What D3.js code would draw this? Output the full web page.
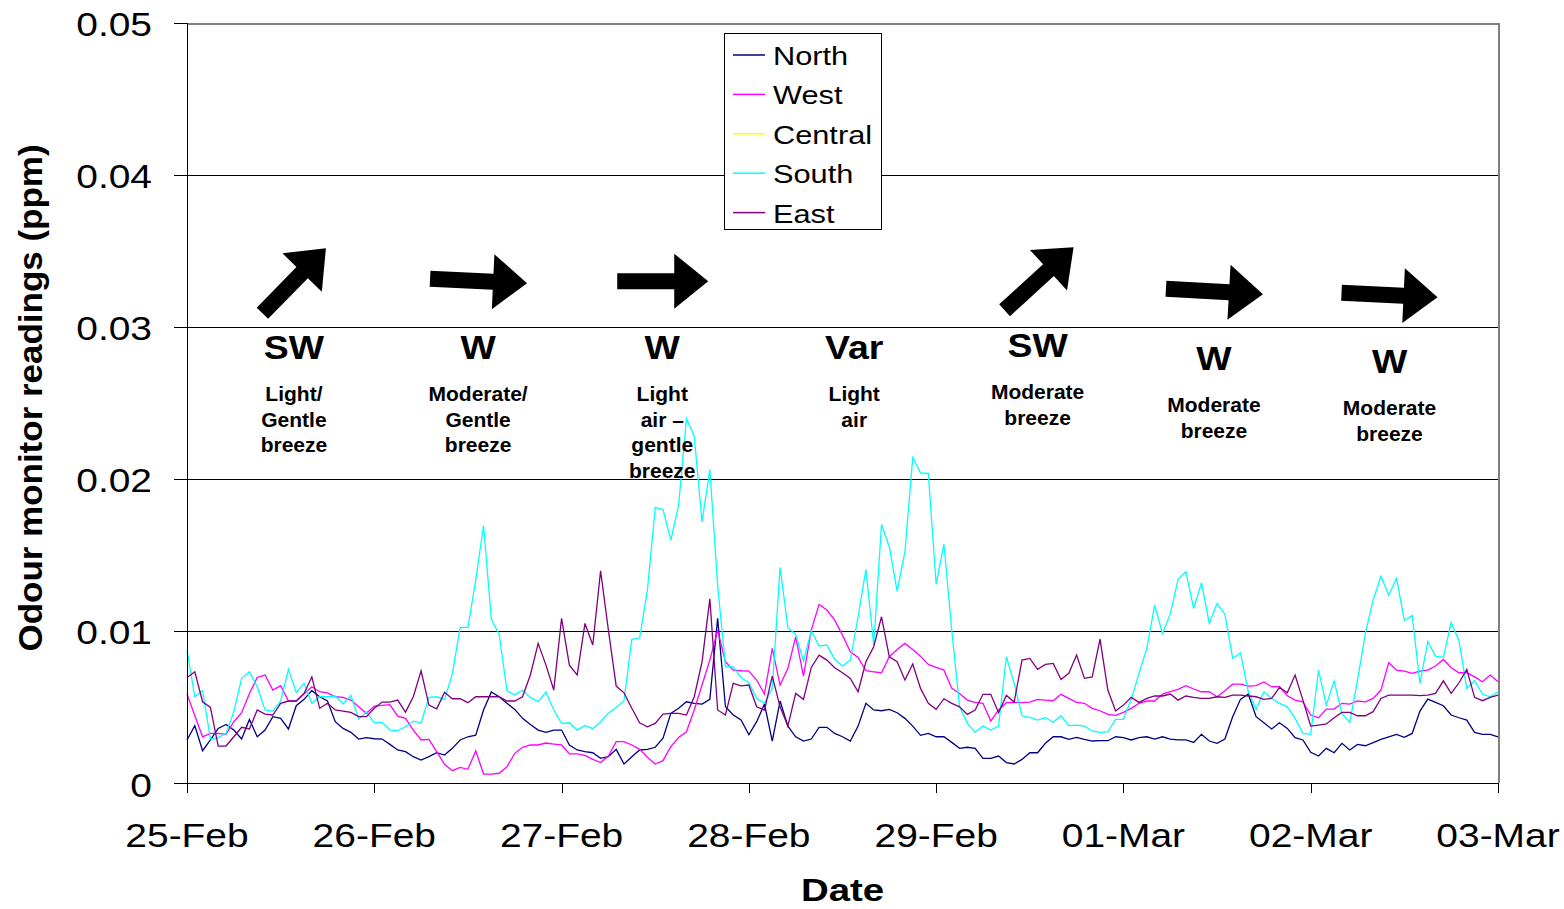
<!DOCTYPE html>
<html>
<head>
<meta charset="utf-8">
<script src="https://cdn.jsdelivr.net/npm/d3@7"></script>
<style>
  html, body { margin: 0; padding: 0; background: #fff; }
  svg { display: block; font-family: "Liberation Sans", Arial, sans-serif; }
</style>
</head>
<body>
<svg id="chart" width="1564" height="909"></svg>
<script>
// ---------------- DATA (hourly readings, ppm) ----------------
const startDate = new Date(2008, 1, 25, 0, 0); // 25-Feb 00:00
const dayLabels = ["25-Feb", "26-Feb", "27-Feb", "28-Feb", "29-Feb", "01-Mar", "02-Mar", "03-Mar"];
const yTickValues = [0, 0.01, 0.02, 0.03, 0.04, 0.05];
const yTickLabels = ["0", "0.01", "0.02", "0.03", "0.04", "0.05"];
const seriesNames = ["North", "West", "Central", "South", "East"];

const north = [
0.00283,0.00377,0.00212,0.00283,0.00359,0.00385,0.00348,0.00289,0.00418,0.00304,0.00348,0.00436,0.00425,0.00355,0.00508,0.00550,0.00607,0.00567,0.00539,0.00403,0.00359,0.00333,0.00289,0.00298,
0.00291,0.00289,0.00254,0.00217,0.00206,0.00173,0.00151,0.00173,0.00199,0.00184,0.00228,0.00283,0.00304,0.00315,0.00480,0.00598,0.00567,0.00524,0.00484,0.00425,0.00385,0.00348,0.00333,0.00348,
0.00348,0.00250,0.00217,0.00206,0.00199,0.00162,0.00173,0.00221,0.00125,0.00173,0.00217,0.00221,0.00235,0.00294,0.00458,0.00491,0.00534,0.00524,0.00519,0.00550,0.01082,0.00501,0.00447,0.00414,
0.00317,0.00403,0.00519,0.00276,0.00539,0.00374,0.00304,0.00276,0.00289,0.00366,0.00366,0.00326,0.00304,0.00276,0.00374,0.00524,0.00480,0.00475,0.00484,0.00462,0.00425,0.00374,0.00313,0.00326,
0.00304,0.00304,0.00267,0.00228,0.00235,0.00228,0.00162,0.00162,0.00177,0.00134,0.00125,0.00155,0.00199,0.00199,0.00261,0.00304,0.00304,0.00287,0.00300,0.00287,0.00276,0.00278,0.00278,0.00304,
0.00298,0.00283,0.00298,0.00304,0.00289,0.00304,0.00289,0.00283,0.00283,0.00267,0.00320,0.00276,0.00261,0.00289,0.00436,0.00550,0.00585,0.00436,0.00396,0.00355,0.00396,0.00359,0.00298,0.00283,
0.00202,0.00177,0.00228,0.00199,0.00261,0.00217,0.00254,0.00245,0.00265,0.00287,0.00304,0.00320,0.00300,0.00326,0.00473,0.00552,0.00530,0.00508,0.00447,0.00429,0.00414,0.00333,0.00320,0.00320,0.00304
];

const west = [
0.00585,0.00442,0.00304,0.00326,0.00326,0.00320,0.00403,0.00462,0.00589,0.00694,0.00710,0.00611,0.00640,0.00539,0.00539,0.00585,0.00633,0.00600,0.00593,0.00567,0.00563,0.00545,0.00502,0.00458,
0.00506,0.00510,0.00515,0.00440,0.00425,0.00348,0.00283,0.00287,0.00206,0.00123,0.00081,0.00103,0.00090,0.00212,0.00059,0.00059,0.00064,0.00107,0.00195,0.00235,0.00250,0.00250,0.00263,0.00256,
0.00250,0.00191,0.00191,0.00182,0.00155,0.00134,0.00177,0.00272,0.00272,0.00250,0.00221,0.00169,0.00125,0.00147,0.00239,0.00300,0.00337,0.00480,0.00644,0.00808,0.01005,0.00797,0.00742,0.00738,
0.00736,0.00677,0.00585,0.00885,0.00644,0.00753,0.00961,0.00703,0.01005,0.01174,0.01137,0.01071,0.00972,0.00863,0.00826,0.00738,0.00731,0.00725,0.00830,0.00878,0.00918,0.00878,0.00834,0.00780,
0.00760,0.00742,0.00622,0.00589,0.00545,0.00530,0.00524,0.00407,0.00480,0.00528,0.00530,0.00528,0.00532,0.00550,0.00545,0.00541,0.00583,0.00556,0.00530,0.00524,0.00491,0.00475,0.00451,0.00445,
0.00464,0.00491,0.00524,0.00539,0.00539,0.00585,0.00600,0.00615,0.00640,0.00618,0.00600,0.00600,0.00567,0.00607,0.00650,0.00650,0.00637,0.00640,0.00664,0.00633,0.00633,0.00574,0.00545,0.00534,
0.00447,0.00429,0.00486,0.00486,0.00524,0.00519,0.00539,0.00534,0.00556,0.00611,0.00791,0.00742,0.00736,0.00721,0.00736,0.00742,0.00769,0.00812,0.00758,0.00725,0.00725,0.00698,0.00666,0.00710,0.00666
];

const central = []; // listed in the legend, no readings plotted

const south = [
0.00874,0.00567,0.00607,0.00289,0.00298,0.00326,0.00469,0.00688,0.00731,0.00633,0.00480,0.00473,0.00539,0.00747,0.00596,0.00655,0.00524,0.00567,0.00567,0.00572,0.00519,0.00576,0.00420,0.00469,
0.00396,0.00399,0.00348,0.00344,0.00370,0.00407,0.00396,0.00563,0.00567,0.00550,0.00716,0.01023,0.01023,0.01334,0.01693,0.01076,0.00979,0.00607,0.00578,0.00611,0.00563,0.00534,0.00598,0.00480,
0.00392,0.00396,0.00348,0.00379,0.00357,0.00403,0.00458,0.00497,0.00539,0.00944,0.00953,0.01268,0.01811,0.01798,0.01597,0.01827,0.02396,0.02280,0.01717,0.02061,0.01300,0.00769,0.00764,0.00694,
0.00659,0.00556,0.00524,0.00622,0.01417,0.01021,0.00977,0.00802,0.01001,0.00900,0.00907,0.00813,0.00769,0.00808,0.01093,0.01404,0.00907,0.01700,0.01553,0.01261,0.01520,0.02140,0.02039,0.02035,
0.01307,0.01570,0.01005,0.00501,0.00392,0.00333,0.00374,0.00348,0.00374,0.00830,0.00655,0.00442,0.00431,0.00414,0.00429,0.00399,0.00442,0.00377,0.00381,0.00374,0.00342,0.00333,0.00337,0.00418,
0.00418,0.00550,0.00721,0.00885,0.01170,0.00983,0.01110,0.01338,0.01389,0.01147,0.01316,0.01049,0.01180,0.01110,0.00819,0.00856,0.00600,0.00484,0.00600,0.00556,0.00524,0.00501,0.00425,0.00326,
0.00320,0.00742,0.00512,0.00672,0.00458,0.00399,0.00677,0.00983,0.01202,0.01360,0.01235,0.01345,0.01067,0.01102,0.00655,0.00929,0.00834,0.00826,0.01056,0.00935,0.00622,0.00672,0.00585,0.00567,0.00600
];

const east = [
0.00694,0.00731,0.00534,0.00497,0.00243,0.00243,0.00304,0.00366,0.00355,0.00480,0.00453,0.00447,0.00524,0.00539,0.00539,0.00589,0.00698,0.00491,0.00524,0.00480,0.00473,0.00464,0.00436,0.00436,
0.00491,0.00532,0.00532,0.00545,0.00466,0.00567,0.00738,0.00512,0.00488,0.00596,0.00554,0.00554,0.00528,0.00567,0.00567,0.00567,0.00567,0.00539,0.00539,0.00567,0.00710,0.00918,0.00775,0.00611,
0.01082,0.00775,0.00710,0.01049,0.00907,0.01395,0.01005,0.00637,0.00593,0.00491,0.00396,0.00370,0.00392,0.00453,0.00458,0.00458,0.00447,0.00567,0.00797,0.01211,0.00480,0.00447,0.00655,0.00639,
0.00644,0.00501,0.00480,0.00703,0.00501,0.00374,0.00589,0.00550,0.00760,0.00841,0.00808,0.00758,0.00725,0.00688,0.00600,0.00797,0.00896,0.01093,0.00830,0.00797,0.00677,0.00782,0.00622,0.00524,
0.00484,0.00554,0.00524,0.00501,0.00451,0.00480,0.00583,0.00583,0.00462,0.00576,0.00532,0.00808,0.00819,0.00747,0.00780,0.00786,0.00681,0.00721,0.00841,0.00688,0.00698,0.00946,0.00611,0.00473,
0.00512,0.00563,0.00530,0.00556,0.00572,0.00572,0.00585,0.00545,0.00572,0.00563,0.00556,0.00556,0.00567,0.00563,0.00578,0.00578,0.00572,0.00567,0.00550,0.00556,0.00629,0.00593,0.00710,0.00545,
0.00374,0.00381,0.00388,0.00429,0.00464,0.00464,0.00442,0.00442,0.00469,0.00556,0.00578,0.00578,0.00578,0.00578,0.00574,0.00578,0.00589,0.00672,0.00589,0.00659,0.00747,0.00563,0.00541,0.00563,0.00578
];

// Wind annotations (hour offset from start, label baseline in ppm)
const windHours = [13.7, 37.3, 60.9, 85.5, 109.0, 131.6, 154.1];
const windDirs = ["SW", "W", "W", "Var", "SW", "W", "W"];
const windDesc = [
  ["Light/", "Gentle", "breeze"],
  ["Moderate/", "Gentle", "breeze"],
  ["Light", "air \u2013", "gentle", "breeze"],
  ["Light", "air"],
  ["Moderate", "breeze"],
  ["Moderate", "breeze"],
  ["Moderate", "breeze"]
];
const windBase = [0.02786, 0.02786, 0.02786, 0.02786, 0.02799, 0.02714, 0.02694];

// ---------------- STYLE / LAYOUT ----------------
const colors = { North: "#000080", West: "#FF00FF", Central: "#FFFF00", South: "#00FFFF", East: "#800080" };
const seriesData = { North: north, West: west, Central: central, South: south, East: east };
const plot = { left: 187, right: 1498, top: 22.5, bottom: 783 };
const FONT = '"Liberation Sans", Arial, sans-serif';
// arrow geometry relative to (label centre, label baseline): [tailX, tailY, tipX, tipY]
const arrowGeom = [
  [-31.5, -46, 32, -111],
  [-48, -80.5, 49, -76],
  [-45, -78, 46, -78],
  null,
  [-33, -47, 36, -110],
  [-48, -81.5, 49, -76],
  [-48, -80.5, 48, -76]
];

const svg = d3.select("#chart");

const endDate = d3.timeHour.offset(startDate, 168);
const x = d3.scaleTime().domain([startDate, endDate]).range([plot.left, plot.right]);
const y = d3.scaleLinear().domain([0, 0.05]).range([plot.bottom, plot.top]);
const dayTicks = d3.range(dayLabels.length).map(i => d3.timeDay.offset(startDate, i));

function sText(g, px, py, txt, size, weight, anchor, sx, rot) {
  const t = g.append("text")
    .attr("transform", `translate(${px},${py})` + (rot ? ` rotate(${rot})` : "") + ` scale(${sx},1)`)
    .attr("text-anchor", anchor)
    .style("font-family", FONT)
    .style("font-size", size + "px")
    .style("font-weight", weight)
    .attr("fill", "#000")
    .text(txt);
  return t;
}

// Gridlines
const grid = svg.append("g").attr("shape-rendering", "crispEdges");
grid.selectAll("line.grid")
  .data(yTickValues.filter(v => v > 0 && v < 0.05))
  .join("line")
  .attr("x1", plot.left).attr("x2", plot.right)
  .attr("y1", d => Math.round(y(d)) + 0.5).attr("y2", d => Math.round(y(d)) + 0.5)
  .attr("stroke", "#000").attr("stroke-width", 1);

// Plot border top / right (grey)
grid.append("line").attr("x1", plot.left).attr("x2", plot.right + 1)
  .attr("y1", Math.round(y(0.05)) + 0.5).attr("y2", Math.round(y(0.05)) + 0.5)
  .attr("stroke", "#808080").attr("stroke-width", 2);
grid.append("line").attr("x1", plot.right + 0.5).attr("x2", plot.right + 0.5)
  .attr("y1", y(0.05)).attr("y2", plot.bottom)
  .attr("stroke", "#808080").attr("stroke-width", 2);

// Series lines
const line = d3.line()
  .x((d, i) => x(d3.timeHour.offset(startDate, i)))
  .y(d => y(d));
const linesG = svg.append("g");
seriesNames.forEach(name => {
  const vals = seriesData[name];
  if (!vals.length) return;
  linesG.append("path")
    .datum(vals)
    .attr("d", line)
    .attr("fill", "none")
    .attr("stroke", colors[name])
    .attr("stroke-width", 1.3)
    .attr("stroke-linejoin", "miter");
});

// Axes (lines + ticks)
const axG = svg.append("g").attr("shape-rendering", "crispEdges");
const yAxis = d3.axisLeft(y).tickValues(yTickValues).tickSize(13).tickFormat("");
axG.append("g").attr("transform", `translate(${plot.left},0)`).call(yAxis)
  .call(g => g.select(".domain").attr("stroke", "#000"))
  .call(g => g.selectAll(".tick line").attr("stroke", "#000"));
const xAxis = d3.axisBottom(x).tickValues(dayTicks).tickSize(10).tickFormat("");
axG.append("g").attr("transform", `translate(0,${plot.bottom})`).call(xAxis)
  .call(g => g.select(".domain").attr("stroke", "#000"))
  .call(g => g.selectAll(".tick line").attr("stroke", "#000"));

// Tick labels
const labG = svg.append("g");
yTickValues.forEach((v, i) => {
  sText(labG, 152, y(v) + 13.5, yTickLabels[i], 33, "normal", "end", 1.18);
});
dayTicks.forEach((d, i) => {
  sText(labG, x(d), 847, dayLabels[i], 33, "normal", "middle", 1.18);
});

// Axis titles
sText(labG, (plot.left + plot.right) / 2, 901, "Date", 32, "bold", "middle", 1.2);
sText(labG, 42, 398, "Odour monitor readings (ppm)", 33, "bold", "middle", 1.06, -90);

// Wind annotations
const annG = svg.append("g");
windHours.forEach((h, i) => {
  const cx = x(d3.timeMinute.offset(startDate, Math.round(h * 60)));
  const by = y(windBase[i]);
  sText(annG, cx, by, windDirs[i], 34, "bold", "middle", 1.1);
  windDesc[i].forEach((ln, j) => {
    sText(annG, cx, by + 42 + j * 25.5, ln, 21, "bold", "middle", 1);
  });
  const a = arrowGeom[i];
  if (a) {
    const tx = cx + a[0], ty = by + a[1], px = cx + a[2], py = by + a[3];
    const L = Math.hypot(px - tx, py - ty);
    const ang = Math.atan2(py - ty, px - tx) * 180 / Math.PI;
    const hw = 8, hh = 27.5, hl = 34;
    const pts = [[0, -hw], [L - hl, -hw], [L - hl, -hh], [L, 0], [L - hl, hh], [L - hl, hw], [0, hw]];
    annG.append("polygon")
      .attr("points", pts.map(p => p.join(",")).join(" "))
      .attr("transform", `translate(${tx},${ty}) rotate(${ang})`)
      .attr("fill", "#000");
  }
});

// Legend
const leg = svg.append("g");
leg.append("rect").attr("x", 724.5).attr("y", 33.5).attr("width", 157).attr("height", 196)
  .attr("fill", "#fff").attr("stroke", "#000").attr("stroke-width", 1)
  .attr("shape-rendering", "crispEdges");
seriesNames.forEach((name, i) => {
  const ly = 55 + i * 39.4;
  leg.append("line").attr("x1", 733).attr("x2", 765).attr("y1", ly).attr("y2", ly)
    .attr("stroke", colors[name]).attr("stroke-width", 1.5);
  sText(leg, 773, ly + 10, name, 26.5, "normal", "start", 1.16);
});
</script>
</body>
</html>
